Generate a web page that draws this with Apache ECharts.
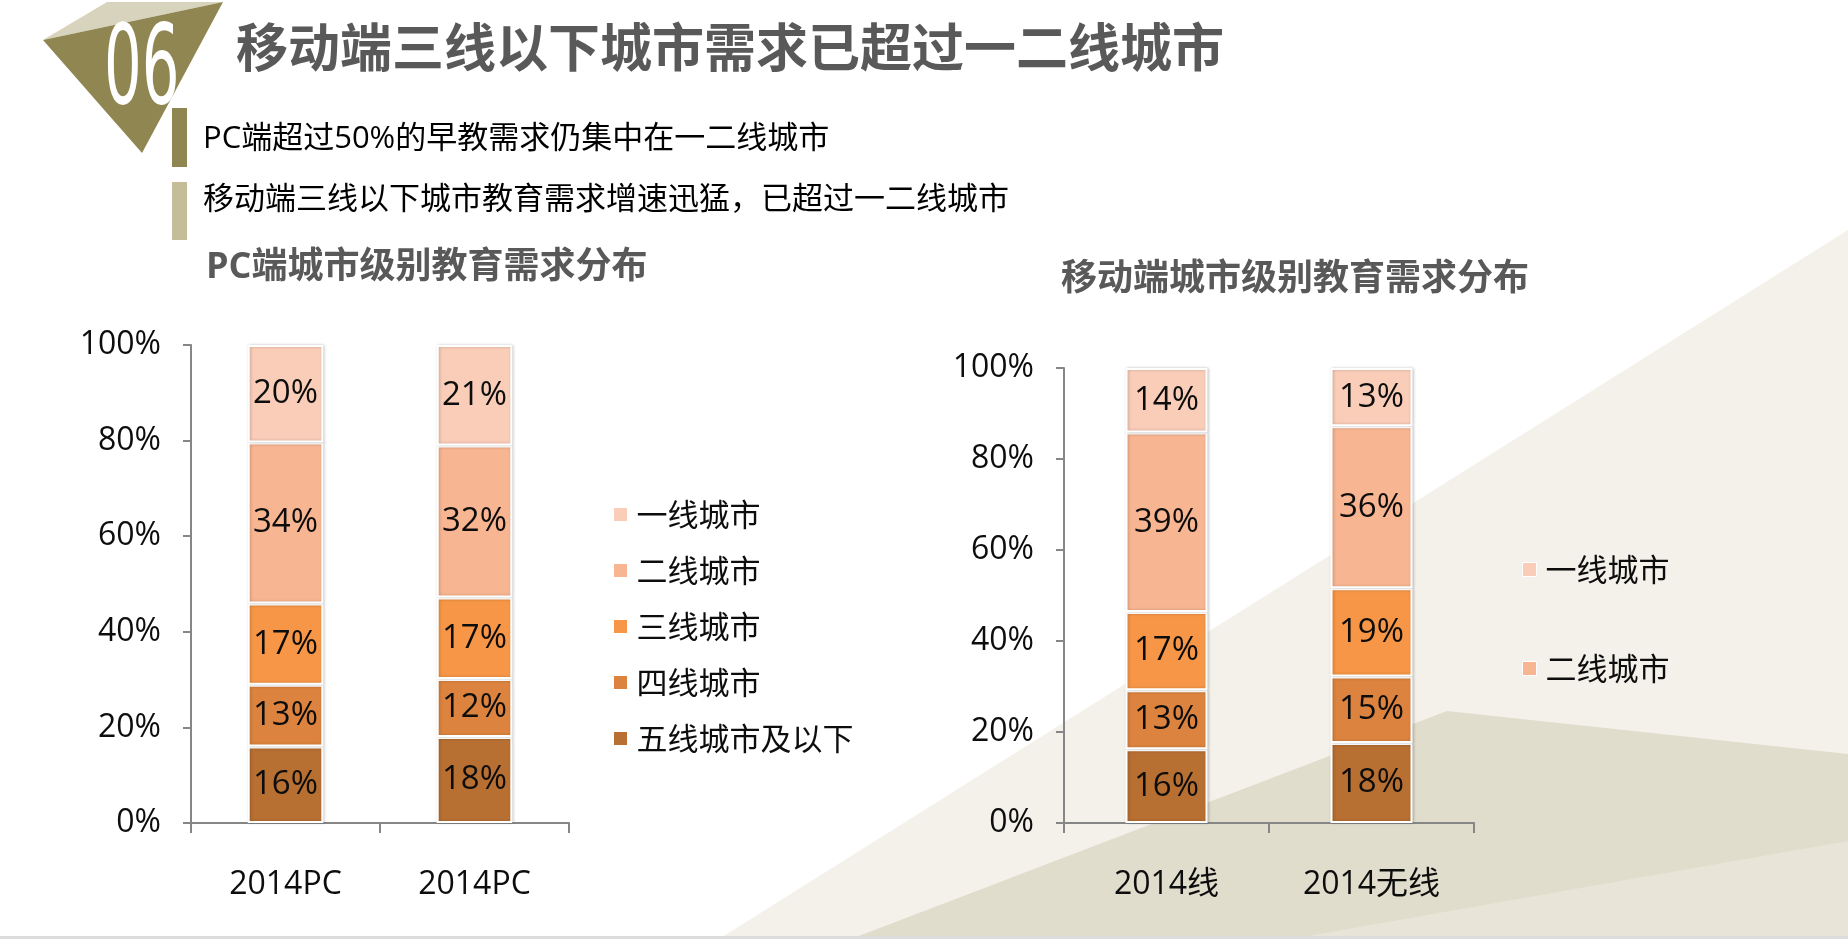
<!DOCTYPE html>
<html>
<head>
<meta charset="utf-8">
<script src="https://cdn.jsdelivr.net/npm/echarts@6/dist/echarts.min.js"></script>
<style>
html,body{margin:0;padding:0;background:#fff;}
#main{width:1848px;height:939px;}
</style>
</head>
<body>
<div id="main"></div>
<script>
// ---- data ----
const categoriesPC = ['2014PC', '2014PC'];
const categoriesMobile = ['2014线', '2014无线'];
const tierNames = ['五线城市及以下', '四线城市', '三线城市', '二线城市', '一线城市'];
const legendPC = ['一线城市', '二线城市', '三线城市', '四线城市', '五线城市及以下'];
const legendMobile = ['一线城市', '二线城市'];
// values per tier (bottom to top), two categories each
const pcTier5 = [16.0, 18.0];
const pcTier4 = [12.9, 12.1];
const pcTier3 = [17.0, 17.1];
const pcTier2 = [33.7, 31.8];
const pcTier1 = [20.4, 21.0];
const mobileTier5 = [16.2, 17.6];
const mobileTier4 = [13.0, 14.6];
const mobileTier3 = [17.2, 19.4];
const mobileTier2 = [39.4, 35.6];
const mobileTier1 = [14.2, 12.8];
const yTicks = { min: 0, max: 100, interval: 20 };

const tierColors = ['#b86f32', '#dc843f', '#f79646', '#f8b591', '#f9cdb8'];
const pcValues = [pcTier5, pcTier4, pcTier3, pcTier2, pcTier1];
const mobileValues = [mobileTier5, mobileTier4, mobileTier3, mobileTier2, mobileTier1];

const FONT = "'Open Sans', 'Noto Sans CJK SC', sans-serif";
const CJK = "'Noto Sans CJK SC', sans-serif";

const chart = echarts.init(document.getElementById('main'));

function makeSeries(values, stack, axisIdx) {
  return values.map((arr, i) => ({
    name: tierNames[i],
    type: 'bar',
    stack: stack,
    xAxisIndex: axisIdx,
    yAxisIndex: axisIdx,
    barWidth: '40%',
    data: arr,
    itemStyle: {
      color: tierColors[i],
      borderColor: '#ffffff',
      borderWidth: 2,
      shadowBlur: 3,
      shadowColor: 'rgba(0,0,0,0.22)',
      shadowOffsetX: 1
    },
    label: {
      show: true,
      position: 'inside',
      formatter: p => Math.round(p.value) + '%',
      color: '#0d0d0d',
      fontSize: 33,
      fontFamily: FONT
    },
    emphasis: { disabled: true }
  }));
}

const axisLineStyle = { color: '#868686', width: 2 };

function xAxis(cats, grid) {
  return {
    type: 'category',
    gridIndex: grid,
    data: cats,
    axisLine: { lineStyle: axisLineStyle },
    axisTick: { show: true, length: 10, lineStyle: axisLineStyle },
    axisLabel: { color: '#0d0d0d', fontSize: 32, fontFamily: FONT, margin: 46 }
  };
}
function yAxis(grid) {
  return {
    type: 'value',
    gridIndex: grid,
    min: yTicks.min, max: yTicks.max, interval: yTicks.interval,
    axisLine: { show: true, lineStyle: axisLineStyle },
    axisTick: { show: true, length: 8, lineStyle: axisLineStyle },
    splitLine: { show: false },
    axisLabel: { color: '#0d0d0d', fontSize: 32, fontFamily: FONT, margin: 30, formatter: '{value}%' }
  };
}

const option = {
  animation: false,
  backgroundColor: '#ffffff',
  graphic: [
    // background shapes
    { type: 'polygon', silent: true, z: -10, shape: { points: [[1848, 230], [1848, 939], [719, 939]] }, style: { fill: '#f3f1ea' } },
    { type: 'polygon', silent: true, z: -9, shape: { points: [[1447, 711], [1848, 754], [1848, 939], [851, 939]] }, style: { fill: '#e0ddcd' } },
    { type: 'polygon', silent: true, z: -8, shape: { points: [[1848, 841], [1848, 939], [1291, 939]] }, style: { fill: '#e8e5d8' } },
    { type: 'rect', silent: true, z: -7, shape: { x: 0, y: 936, width: 1848, height: 3 }, style: { fill: '#dcdcdc' } },
    // logo
    { type: 'polygon', silent: true, shape: { points: [[43, 40], [107, 2], [223, 2]] }, style: { fill: '#d8d3bc' } },
    { type: 'polygon', silent: true, shape: { points: [[43, 40], [223, 2], [142, 153]] }, style: { fill: '#8f8652' } },
    { type: 'text', silent: true, x: 104, y: 74, scaleX: 0.6, z: 5,
      style: { text: '06', font: '110px "DejaVu Sans Condensed", "DejaVu Sans"', fill: '#ffffff', textAlign: 'left', textVerticalAlign: 'middle' } },
    // side bars
    { type: 'rect', silent: true, shape: { x: 172, y: 108, width: 15, height: 59 }, style: { fill: '#8f8652' } },
    { type: 'rect', silent: true, shape: { x: 172, y: 182, width: 15, height: 58 }, style: { fill: '#c4bd98' } },
    // subtitles
    { type: 'text', silent: true, x: 203, y: 139,
      style: { text: 'PC端超过50%的早教需求仍集中在一二线城市', font: '31px ' + FONT, fill: '#000000', textVerticalAlign: 'middle' } },
    { type: 'text', silent: true, x: 203, y: 200,
      style: { text: '移动端三线以下城市教育需求增速迅猛，已超过一二线城市', font: '31px ' + FONT, fill: '#000000', textVerticalAlign: 'middle' } }
  ],
  title: [
    { text: '移动端三线以下城市需求已超过一二线城市', left: 236, top: 21, padding: 0,
      textStyle: { fontSize: 52, fontWeight: 'bold', color: '#595959', fontFamily: CJK } },
    { text: 'PC端城市级别教育需求分布', left: 206, top: 250, padding: 0,
      textStyle: { fontSize: 36, fontWeight: 'bold', color: '#595959', fontFamily: FONT } },
    { text: '移动端城市级别教育需求分布', left: 1061, top: 258, padding: 0,
      textStyle: { fontSize: 36, fontWeight: 'bold', color: '#595959', fontFamily: CJK } }
  ],
  legend: [
    { data: legendPC, orient: 'vertical', left: 613, top: 499, itemWidth: 14, itemHeight: 14, itemGap: 25,
      icon: 'rect', selectedMode: false, padding: 0,
      itemStyle: { borderColor: '#fff', borderWidth: 1, shadowBlur: 0, shadowOffsetX: 0 },
      textStyle: { color: '#0d0d0d', fontSize: 31, lineHeight: 30, fontFamily: CJK, padding: [0, 0, 0, 4] } },
    { data: legendMobile, orient: 'vertical', left: 1522, top: 554, itemWidth: 14, itemHeight: 14, itemGap: 68,
      icon: 'rect', selectedMode: false, padding: 0,
      itemStyle: { borderColor: '#fff', borderWidth: 1, shadowBlur: 0, shadowOffsetX: 0 },
      textStyle: { color: '#0d0d0d', fontSize: 31, lineHeight: 30, fontFamily: CJK, padding: [0, 0, 0, 4] } }
  ],
  grid: [
    { left: 191, top: 345, width: 378, height: 478 },
    { left: 1064, top: 368, width: 410, height: 455 }
  ],
  xAxis: [xAxis(categoriesPC, 0), xAxis(categoriesMobile, 1)],
  yAxis: [yAxis(0), yAxis(1)],
  series: [...makeSeries(pcValues, 'pc', 0), ...makeSeries(mobileValues, 'mobile', 1)]
};
chart.setOption(option);
</script>
</body>
</html>
